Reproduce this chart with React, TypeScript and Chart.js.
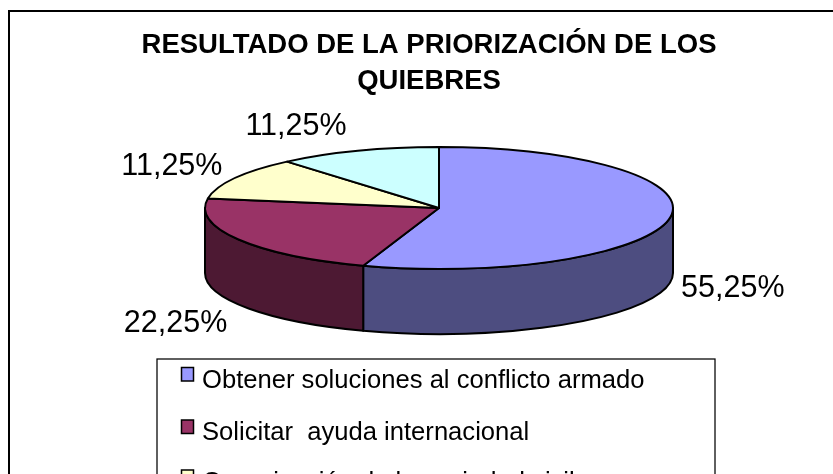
import React, { useEffect, useRef } from "react";
import { Chart, registerables } from "chart.js";

Chart.register(...registerables);

const titleLines = ["RESULTADO DE LA PRIORIZACIÓN DE LOS", "QUIEBRES"];
const categories = [
  "Obtener soluciones al conflicto armado",
  "Solicitar  ayuda internacional",
  "Organización de la sociedad civil",
];
const values = [55.25, 22.25, 11.25, 11.25];
const topColors = ["#9999FF", "#993366", "#FFFFCC", "#CCFFFF"];
const wallColors = ["#4D4D80", "#4D1933", "#80805F", "#668080"];
const labelOffsets = [
  [63, 71],
  [-63, 84],
  [-63, -12],
  [-62, -24],
];
const legendBaselines = [388, 440, 490];
const legendBoxTops = [367.5, 420, 470];

const FONT = '"Liberation Sans", Arial, sans-serif';
const PIE_CX = 439;
const PIE_CY = 208;
const RADIUS = 234;
const SQUASH = 61 / 234;
const DEPTH = 65;

const pie3d = {
  id: "pie3d",
  beforeDraw(chart: any) {
    const ctx = chart.ctx;
    ctx.save();
    ctx.fillStyle = "#fff";
    ctx.fillRect(0, 0, chart.width, chart.height);
    ctx.strokeStyle = "#000";
    ctx.lineWidth = 2;
    ctx.strokeRect(9, 11, 1000, 800);
    ctx.lineWidth = 1.25;
    ctx.strokeRect(157, 359, 558, 400);
    // legend
    ctx.font = `25.6px ${FONT}`;
    ctx.textAlign = "left";
    ctx.textBaseline = "alphabetic";
    categories.forEach((text, i) => {
      ctx.fillStyle = topColors[i];
      ctx.strokeStyle = "#000";
      ctx.lineWidth = 1.5;
      ctx.fillRect(181.5, legendBoxTops[i], 12, 13.5);
      ctx.strokeRect(181.5, legendBoxTops[i], 12, 13.5);
      ctx.fillStyle = "#000";
      ctx.fillText(text, 202, legendBaselines[i]);
    });
    ctx.restore();
  },
  beforeDatasetsDraw(chart: any) {
    const ctx = chart.ctx;
    const arcs = chart.getDatasetMeta(0).data;
    const ry = RADIUS * SQUASH;
    ctx.save();
    ctx.lineJoin = "round";
    ctx.strokeStyle = "#000";
    ctx.lineWidth = 2;
    // walls
    arcs.forEach((arc: any, i: number) => {
      const a = Math.max(arc.startAngle, 0);
      const b = Math.min(arc.endAngle, Math.PI);
      if (b <= a) return;
      ctx.beginPath();
      ctx.ellipse(PIE_CX, PIE_CY, RADIUS, ry, 0, a, b);
      ctx.ellipse(PIE_CX, PIE_CY + DEPTH, RADIUS, ry, 0, b, a, true);
      ctx.closePath();
      ctx.fillStyle = wallColors[i];
      ctx.fill();
      ctx.stroke();
    });
    // top faces
    arcs.forEach((arc: any) => {
      ctx.save();
      ctx.translate(PIE_CX, PIE_CY);
      ctx.scale(1, SQUASH);
      ctx.translate(-arc.x, -arc.y);
      arc.draw(ctx);
      ctx.restore();
      ctx.beginPath();
      ctx.moveTo(PIE_CX, PIE_CY);
      ctx.ellipse(PIE_CX, PIE_CY, RADIUS, ry, 0, arc.startAngle, arc.endAngle);
      ctx.closePath();
      ctx.stroke();
    });
    // value labels
    ctx.fillStyle = "#000";
    ctx.font = `30.5px ${FONT}`;
    ctx.textAlign = "center";
    ctx.textBaseline = "middle";
    arcs.forEach((arc: any, i: number) => {
      const mid = (arc.startAngle + arc.endAngle) / 2;
      const x = PIE_CX + RADIUS * Math.cos(mid) + labelOffsets[i][0];
      const y = PIE_CY + ry * Math.sin(mid) + labelOffsets[i][1];
      ctx.fillText(values[i].toFixed(2).replace(".", ",") + "%", x, y);
    });
    ctx.restore();
    return false;
  },
};

export default function App() {
  const ref = useRef<HTMLCanvasElement>(null);
  useEffect(() => {
    document.body.style.margin = "0";
    const chart = new Chart(ref.current as HTMLCanvasElement, {
      type: "pie",
      data: {
        labels: categories,
        datasets: [
          {
            data: values,
            backgroundColor: topColors,
            borderWidth: 0,
          },
        ],
      },
      options: {
        animation: false,
        responsive: false,
        radius: RADIUS,
        layout: { padding: { left: 25 } },
        plugins: {
          tooltip: { enabled: false },
          legend: { display: false },
          title: {
            display: true,
            text: titleLines,
            color: "#000",
            font: { family: FONT, size: 27.5, weight: "bold", lineHeight: 1.31 },
            padding: { top: 27, bottom: 4 },
          },
        },
      } as any,
      plugins: [pie3d as any],
    });
    return () => chart.destroy();
  }, []);
  return (
    <div style={{ width: 833, height: 474, overflow: "hidden" }}>
      <canvas ref={ref} width={833} height={474} style={{ display: "block" }} />
    </div>
  );
}
